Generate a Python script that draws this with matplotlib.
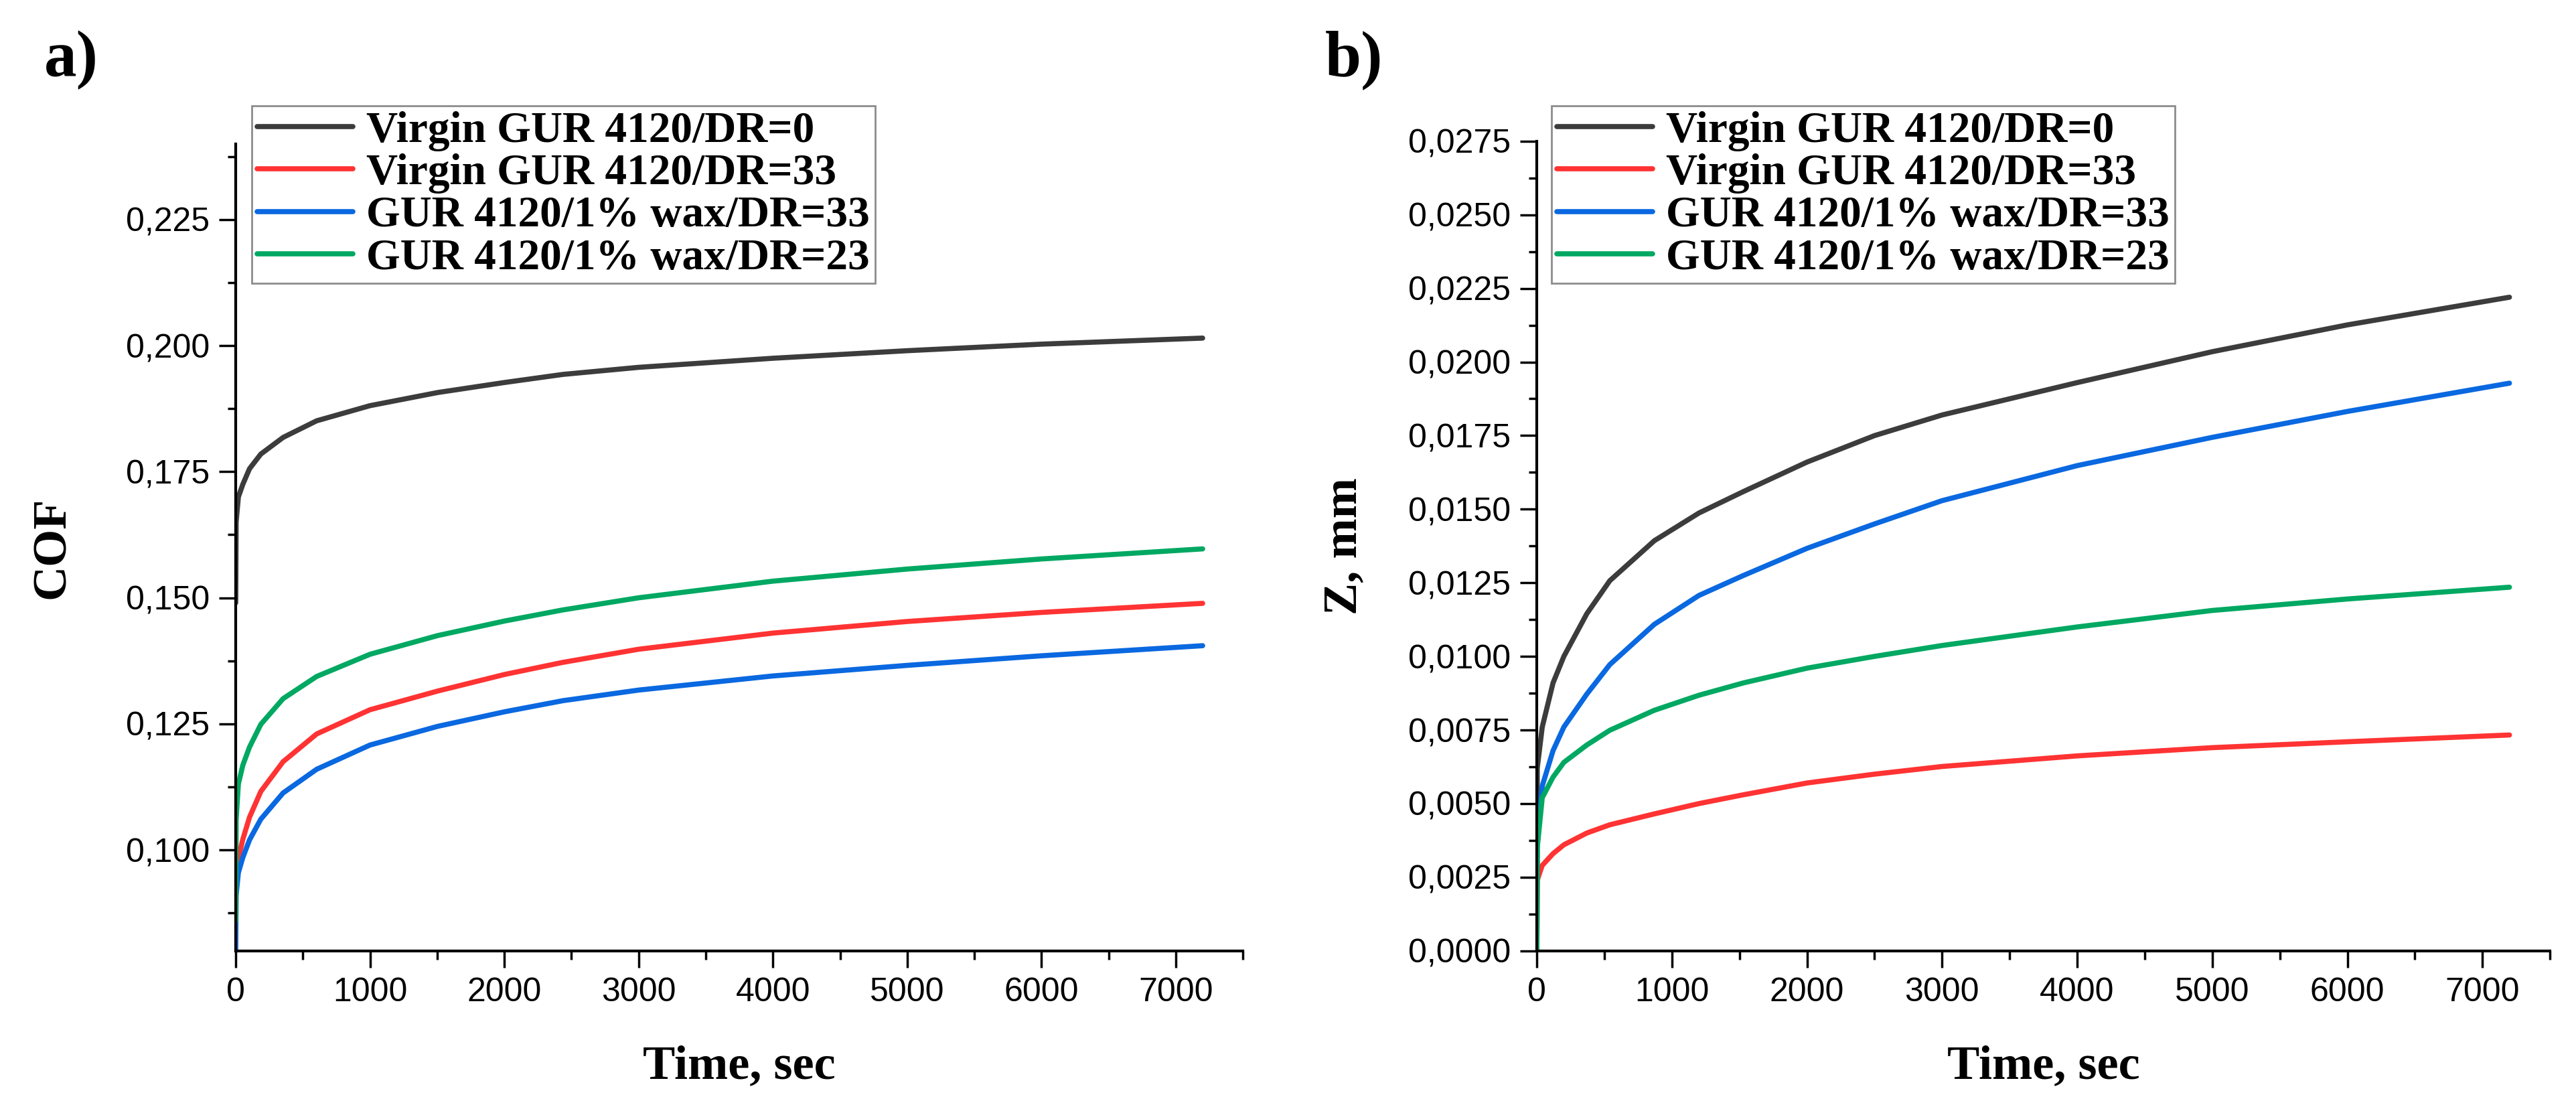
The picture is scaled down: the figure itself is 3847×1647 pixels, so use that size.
import numpy as np
import matplotlib.pyplot as plt
from matplotlib.ticker import MultipleLocator, FuncFormatter

# --- data ---
labels = ['Virgin GUR 4120/DR=0', 'Virgin GUR 4120/DR=33',
          'GUR 4120/1% wax/DR=33', 'GUR 4120/1% wax/DR=23']
colors = ['#3c3c3c', '#ff3333', '#0a68e0', '#00a862']

# panel a) COF
t_cof = [0, 3, 20, 53, 103, 187, 353, 603, 1000, 1503, 2003, 2437, 3000, 4000, 5000, 6000, 7200]
cof_dr0 = [0.149, 0.165, 0.170, 0.1725, 0.1756, 0.1785, 0.1818, 0.1851, 0.1881, 0.1907,
           0.1927, 0.1943, 0.1957, 0.1975, 0.199, 0.2003, 0.2015]
cof_dr33 = [0.085, 0.094, 0.0984, 0.1021, 0.1065, 0.1116, 0.1175, 0.123, 0.1278, 0.1315,
            0.1348, 0.1372, 0.1398, 0.1430, 0.1453, 0.1471, 0.1489]
cof_wax33 = [0.080, 0.091, 0.0955, 0.0985, 0.102, 0.1061, 0.1113, 0.116, 0.1208, 0.1245,
             0.1274, 0.1296, 0.1317, 0.1345, 0.1366, 0.1385, 0.1405]
cof_wax23 = [0.086, 0.106, 0.1131, 0.1168, 0.1204, 0.1249, 0.130, 0.1344, 0.1388, 0.1425,
             0.1454, 0.1476, 0.150, 0.1533, 0.1557, 0.1577, 0.1597]

# panel b) Z, mm
t_z = [0, 3, 40, 120, 200, 370, 540, 870, 1200, 1530, 2000, 2500, 3000, 4000, 5000, 6000, 7200]
z_dr0 = [0.0, 0.0062, 0.0076, 0.0091, 0.0100, 0.01145, 0.01257, 0.01393, 0.01487, 0.0156,
         0.0166, 0.0175, 0.0182, 0.0193, 0.02035, 0.02126, 0.0222]
z_dr33 = [0.0, 0.0024, 0.0029, 0.0033, 0.0036, 0.0040, 0.00428, 0.00465, 0.00500, 0.00530,
          0.00570, 0.0060, 0.00626, 0.00662, 0.0069, 0.0071, 0.00733]
z_wax33 = [0.0, 0.0036, 0.0056, 0.0068, 0.0076, 0.00872, 0.00972, 0.01109, 0.01207, 0.01275,
           0.01367, 0.0145, 0.01529, 0.01648, 0.01744, 0.01832, 0.01928]
z_wax23 = [0.0, 0.0035, 0.0052, 0.0059, 0.0064, 0.00699, 0.00749, 0.00817, 0.00868, 0.0091,
           0.0096, 0.0100, 0.01037, 0.0110, 0.01156, 0.01195, 0.01235]

serif = 'Liberation Serif'
sans = 'Liberation Sans'

fig = plt.figure(figsize=(38.47, 16.47), dpi=100)
ax1 = fig.add_axes([0.0915, 0.138, 0.391, 0.7315])
ax2 = fig.add_axes([0.5966, 0.138, 0.3933, 0.734])


def comma_fmt(ndec):
    return FuncFormatter(lambda v, p: ('%.*f' % (ndec, v)).replace('.', ','))


def style(ax, ymin, ymax, ymaj, ndec):
    ax.set_xlim(0, 7500)
    ax.set_ylim(ymin, ymax)
    ax.spines['right'].set_visible(False)
    ax.spines['top'].set_visible(False)
    for s in ('left', 'bottom'):
        ax.spines[s].set_linewidth(3)
    ax.xaxis.set_major_locator(MultipleLocator(1000))
    ax.xaxis.set_minor_locator(MultipleLocator(500))
    ax.yaxis.set_major_locator(MultipleLocator(ymaj))
    ax.yaxis.set_minor_locator(MultipleLocator(ymaj / 2))
    ax.yaxis.set_major_formatter(comma_fmt(ndec))
    ax.tick_params(which='major', length=18, width=2.5, direction='out', pad=10)
    ax.tick_params(which='minor', length=9, width=2.5, direction='out')
    ax.tick_params(labelsize=36)
    for lab in ax.get_xticklabels() + ax.get_yticklabels():
        lab.set_fontfamily(sans)
    ax.set_xlabel('Time, sec', fontsize=52, fontweight='bold', family=serif, labelpad=40)


style(ax1, 0.08, 0.24, 0.025, 3)
style(ax2, 0.0, 0.0275, 0.0025, 4)

for ys, c, lab in zip([cof_dr0, cof_dr33, cof_wax33, cof_wax23], colors, labels):
    ax1.plot(t_cof, ys, color=c, lw=5.5, solid_capstyle='round',
             solid_joinstyle='round', label=lab)
for ys, c, lab in zip([z_dr0, z_dr33, z_wax33, z_wax23], colors, labels):
    ax2.plot(t_z, ys, color=c, lw=5.5, solid_capstyle='round',
             solid_joinstyle='round', label=lab)

ax1.set_ylabel('COF', fontsize=52, fontweight='bold', family=serif, labelpad=55)
ax2.set_ylabel('Z, mm', fontsize=52, fontweight='bold', family=serif, labelpad=45)

for ax, x0 in [(ax1, 376 / 3847), (ax2, 2317 / 3847)]:
    leg = ax.legend(loc='upper left', bbox_to_anchor=(x0, 1 - 158 / 1647),
                    bbox_transform=fig.transFigure, borderaxespad=0,
                    prop={'family': serif, 'weight': 'bold', 'size': 47},
                    handlelength=2.2, handletextpad=0.3, labelspacing=0.05,
                    borderpad=0.12, fancybox=False, framealpha=1)
    leg.get_frame().set_edgecolor('#8c8c8c')
    leg.get_frame().set_linewidth(2)

fig.text(66 / 3847, 1 - 113 / 1647, 'a)', fontsize=70, fontweight='bold',
         family=serif, va='baseline')
fig.text(1979 / 3847, 1 - 113 / 1647, 'b)', fontsize=70, fontweight='bold',
         family=serif, va='baseline')

plt.savefig('out.png', dpi=100)
